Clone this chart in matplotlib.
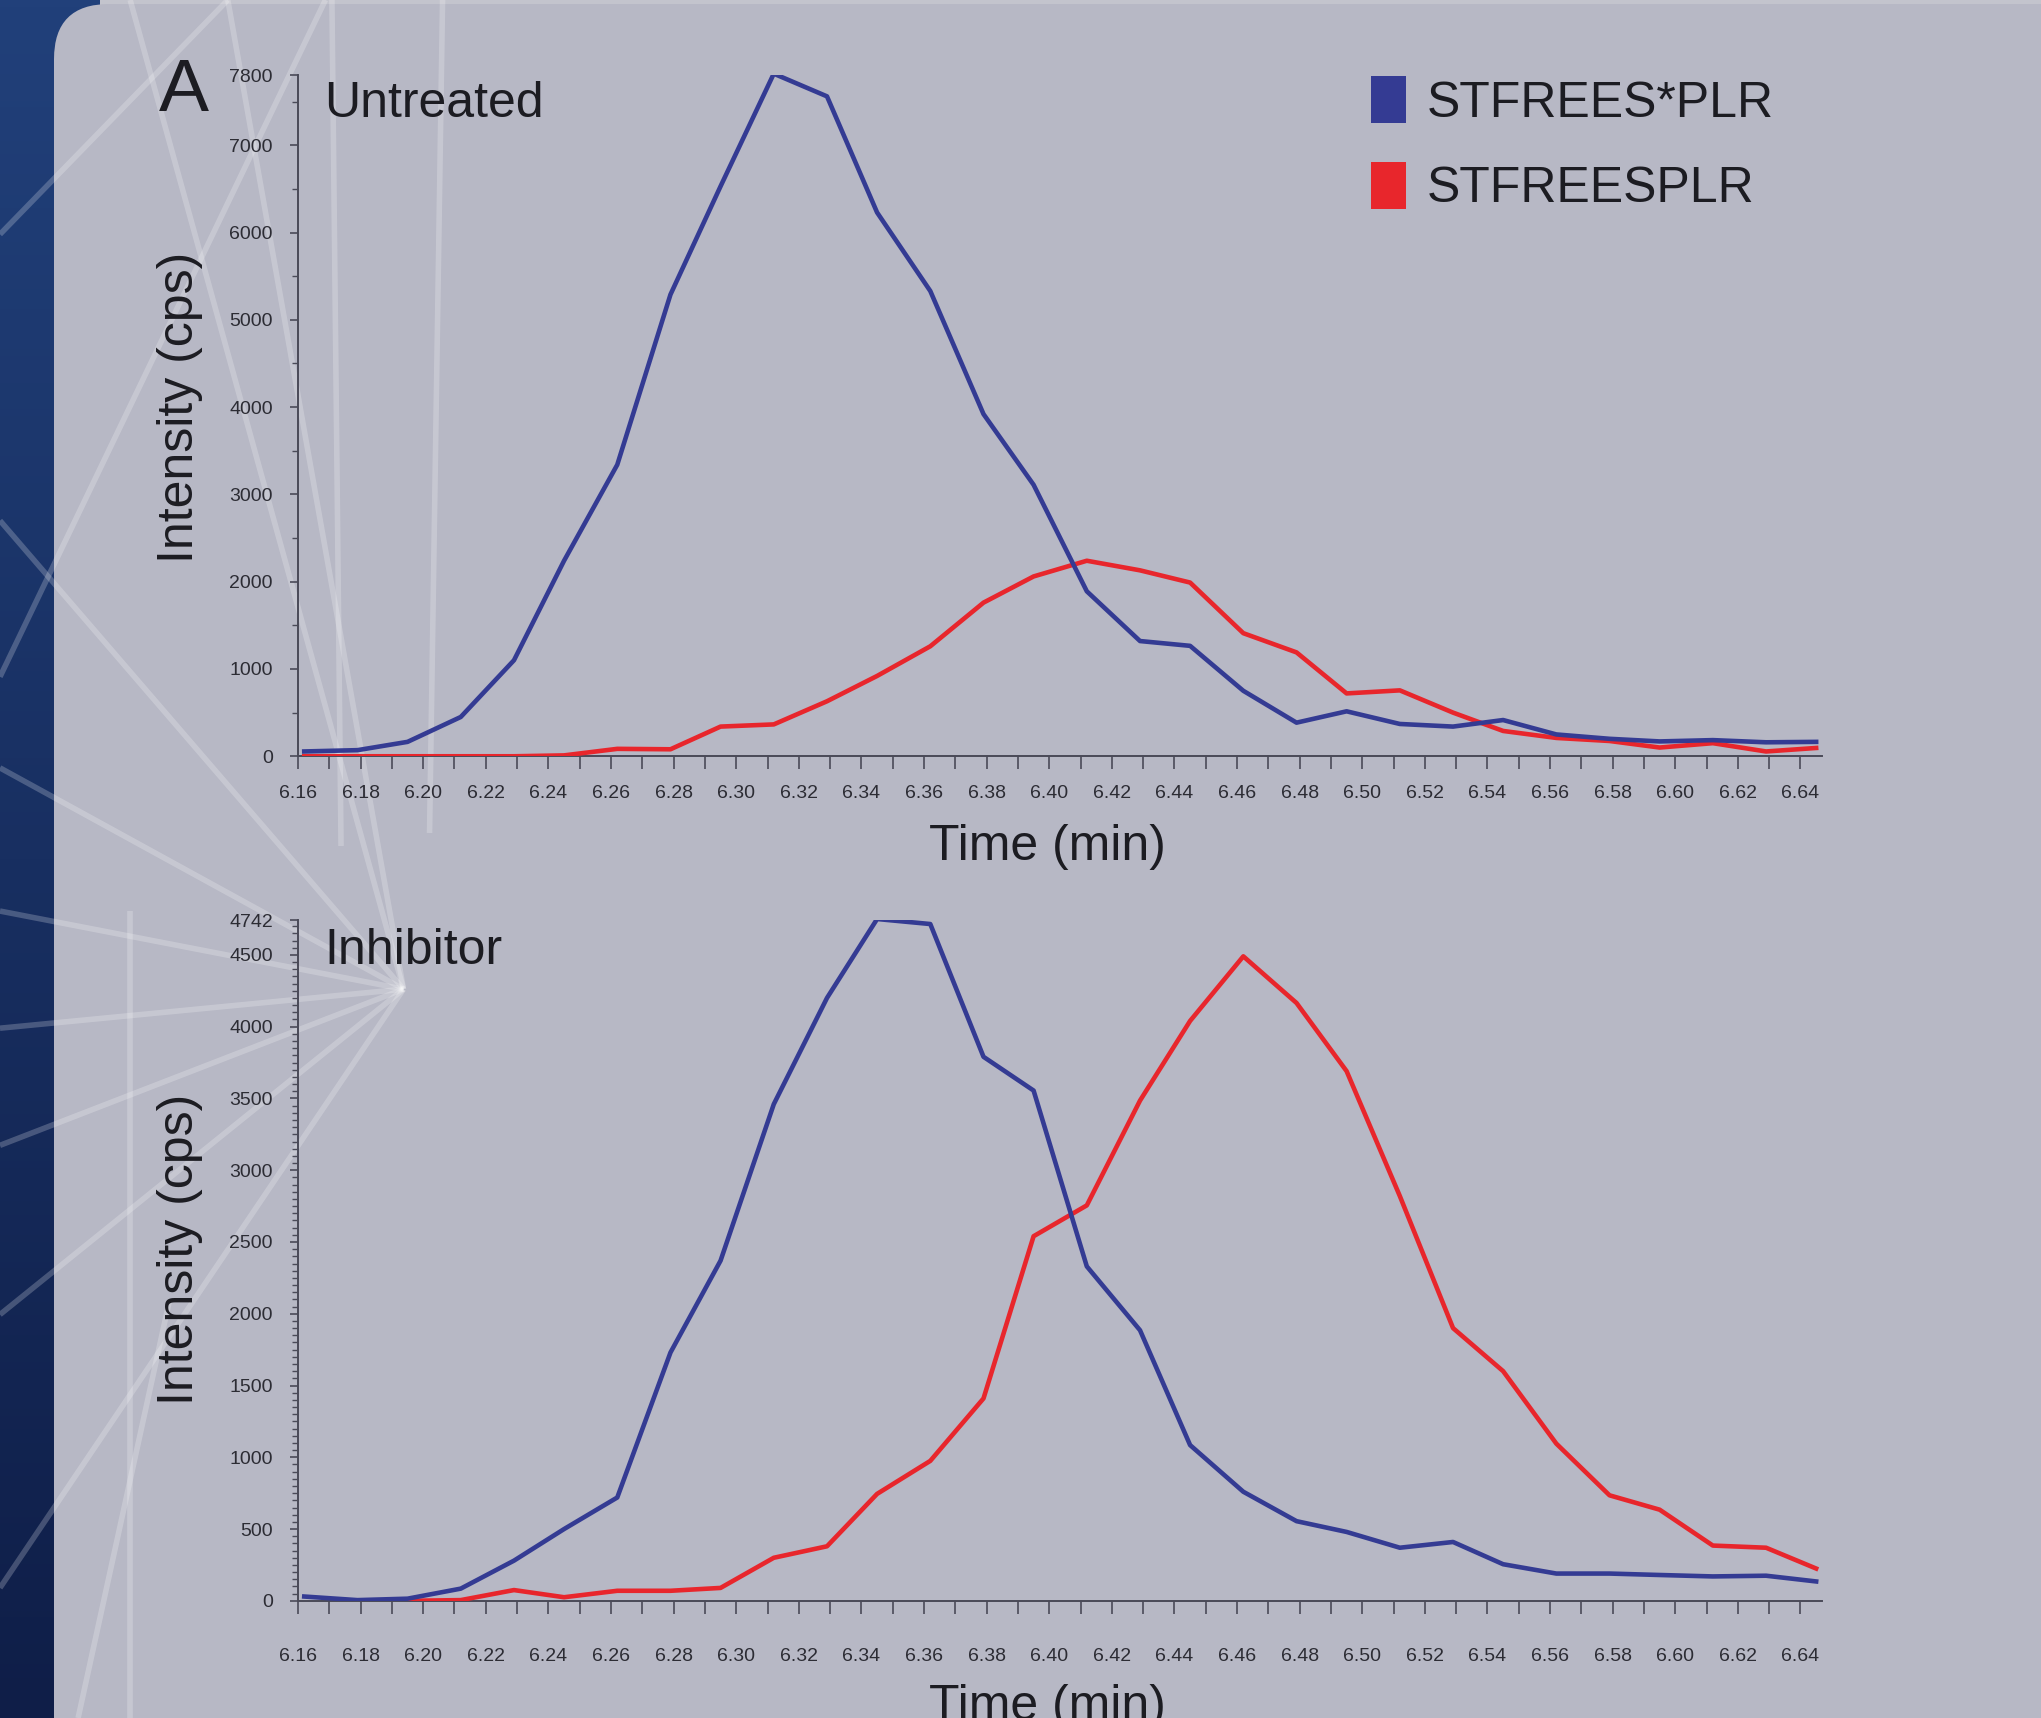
import numpy as np
import matplotlib
matplotlib.use("Agg")
import matplotlib.pyplot as plt
from matplotlib.patches import Patch, FancyBboxPatch, Rectangle
from matplotlib.lines import Line2D
from matplotlib.ticker import MultipleLocator
from matplotlib.transforms import IdentityTransform
from matplotlib.colors import LinearSegmentedColormap

# ---------------- data ----------------
time_min = [6.162, 6.179, 6.195, 6.212, 6.229, 6.245, 6.262, 6.279, 6.295, 6.312,
            6.329, 6.345, 6.362, 6.379, 6.395, 6.412, 6.429, 6.445, 6.462, 6.479,
            6.495, 6.512, 6.529, 6.545, 6.562, 6.579, 6.595, 6.612, 6.629, 6.645]

untreated_stfrees_star = [55, 70, 165, 450, 1100, 2240, 3340, 5290, 6530, 7820,
                          7560, 6230, 5330, 3920, 3110, 1890, 1320, 1265, 750, 385,
                          515, 370, 340, 415, 250, 200, 170, 185, 160, 165]
untreated_stfrees = [0, 0, 0, 0, 0, 10, 85, 80, 340, 365,
                     630, 920, 1260, 1760, 2060, 2240, 2130, 1990, 1410, 1190,
                     720, 755, 500, 290, 210, 175, 100, 150, 55, 95]

inhibitor_stfrees_star = [30, 5, 15, 85, 280, 500, 720, 1730, 2370, 3460,
                          4200, 4750, 4715, 3790, 3555, 2330, 1885, 1085, 760, 555,
                          480, 370, 410, 255, 190, 190, 180, 170, 175, 135]
inhibitor_stfrees = [np.nan, np.nan, 0, 5, 75, 25, 70, 70, 90, 300,
                     380, 745, 975, 1410, 2540, 2755, 3485, 4040, 4490, 4165,
                     3690, 2820, 1900, 1600, 1095, 735, 635, 385, 370, 225]

x_ticks = [6.16, 6.18, 6.20, 6.22, 6.24, 6.26, 6.28, 6.30, 6.32, 6.34, 6.36, 6.38, 6.40,
           6.42, 6.44, 6.46, 6.48, 6.50, 6.52, 6.54, 6.56, 6.58, 6.60, 6.62, 6.64]
x_tick_labels = ["6.16", "6.18", "6.20", "6.22", "6.24", "6.26", "6.28", "6.30", "6.32",
                 "6.34", "6.36", "6.38", "6.40", "6.42", "6.44", "6.46", "6.48", "6.50",
                 "6.52", "6.54", "6.56", "6.58", "6.60", "6.62", "6.64"]
top_y_ticks = [0, 1000, 2000, 3000, 4000, 5000, 6000, 7000, 7800]
bottom_y_ticks = [0, 500, 1000, 1500, 2000, 2500, 3000, 3500, 4000, 4500, 4742]
series_labels = ["STFREES*PLR", "STFREESPLR"]
panel_titles = ["Untreated", "Inhibitor"]

# ---------------- style ----------------
BLUE = "#343b93"
RED = "#e8262c"
AXC = "#4a4a58"
TXT = "#1c1c22"
PANEL = "#b7b8c5"
TITLE_FONT = ["Liberation Sans", "DejaVu Sans"]
TICK_FONT = ["Liberation Sans Narrow", "Liberation Sans", "DejaVu Sans"]

W, H = 2041, 1718
fig = plt.figure(figsize=(W / 100, H / 100), dpi=100)
fig.patch.set_facecolor("#16295a")

# navy band gradient on the left
band = fig.add_axes([0, 0, 0.06, 1], zorder=-3)
grad = np.linspace(0, 1, 256).reshape(-1, 1)
band_cmap = LinearSegmentedColormap.from_list("band", ["#21407a", "#0f1e48"])
band.imshow(grad, aspect="auto", cmap=band_cmap, extent=[0, 1, 0, 1], origin="upper")
band.set_axis_off()

# light strip along the very top
fig.add_artist(Rectangle((100, 1712), 2000, 10, transform=IdentityTransform(),
                         facecolor="#c3c4cd", edgecolor="none", zorder=-2.5))
# light grey poster panel with rounded top-left corner
panel = FancyBboxPatch((54, -80), 2200, 1714 + 80, boxstyle="round,pad=0,rounding_size=55",
                       transform=IdentityTransform(), facecolor=PANEL, edgecolor="none",
                       zorder=-2)
fig.add_artist(panel)


# faint decorative light rays of the poster background (displayed-image coords)
def dpt(x, y):
    return x / 1568.0, 1 - y / 1320.0


rays = [((310, 760), (0, 590)), ((310, 760), (0, 700)), ((310, 760), (0, 790)),
        ((310, 760), (0, 880)), ((310, 760), (0, 1010)), ((310, 760), (0, 400)),
        ((310, 760), (100, 0)), ((310, 760), (175, 0)), ((0, 180), (175, 0)),
        ((0, 520), (250, 0)), ((255, 0), (262, 650)), ((340, 0), (330, 640)),
        ((100, 700), (100, 1320)), ((310, 760), (0, 1220)), ((130, 1000), (60, 1320))]
for (p0, p1) in rays:
    (x0, y0), (x1, y1) = dpt(*p0), dpt(*p1)
    fig.add_artist(Line2D([x0, x1], [y0, y1], transform=fig.transFigure, color="white",
                          alpha=0.22, lw=4, zorder=-1, solid_capstyle="butt"))

ax1 = fig.add_axes([0.1460, 0.5598, 0.7469, 0.3963], zorder=2)
ax2 = fig.add_axes([0.1460, 0.0682, 0.7469, 0.3962], zorder=2)


def style(ax, yticks, ymax, yminor, xpad):
    ax.set_xlim(6.16, 6.647)
    ax.set_ylim(0, ymax)
    ax.patch.set_visible(False)
    for s in ["top", "right"]:
        ax.spines[s].set_visible(False)
    for s in ["left", "bottom"]:
        ax.spines[s].set_color(AXC)
        ax.spines[s].set_linewidth(1.4)
    ax.set_xticks(x_ticks)
    ax.set_xticklabels(x_tick_labels)
    ax.xaxis.set_minor_locator(MultipleLocator(0.01))
    ax.set_yticks(yticks)
    ax.set_yticklabels([str(v) for v in yticks])
    ax.yaxis.set_minor_locator(MultipleLocator(yminor))
    ax.tick_params(axis="x", which="both", direction="out", length=9, width=1.2,
                   colors=AXC, labelcolor="#2c2c34", labelsize=14, pad=xpad)
    ax.tick_params(axis="y", which="major", direction="out", length=6, width=1.2,
                   colors=AXC, labelcolor="#2c2c34", labelsize=14, pad=12)
    ax.tick_params(axis="y", which="minor", direction="out", length=4, width=1.0,
                   colors=AXC)
    for lbl in ax.get_xticklabels() + ax.get_yticklabels():
        lbl.set_fontfamily(TICK_FONT)
        lbl.set_fontstretch("condensed")


style(ax1, top_y_ticks, 7800, 500, 12)
style(ax2, bottom_y_ticks, 4742, 50, 25)

ax1.plot(time_min, untreated_stfrees, color=RED, lw=3.3, zorder=3)
ax1.plot(time_min, untreated_stfrees_star, color=BLUE, lw=3.3, zorder=4)
ax2.plot(time_min, inhibitor_stfrees, color=RED, lw=3.3, zorder=3)
ax2.plot(time_min, inhibitor_stfrees_star, color=BLUE, lw=3.3, zorder=4)

# texts
fig.text(0.0778, 0.947, "A", fontsize=54, family=TITLE_FONT, color=TXT, ha="left", va="center")
fig.text(0.1588, 0.9394, panel_titles[0], fontsize=36, family=TITLE_FONT, color=TXT,
         ha="left", va="center")
fig.text(0.1588, 0.4462, panel_titles[1], fontsize=36, family=TITLE_FONT, color=TXT,
         ha="left", va="center")
for yc in (0.7629, 0.2727):
    fig.text(0.088, yc, "Intensity (cps)", fontsize=36, family=TITLE_FONT, color=TXT,
             rotation=90, ha="center", va="center")
fig.text(0.5134, 0.5068, "Time (min)", fontsize=36, family=TITLE_FONT, color=TXT,
         ha="center", va="center")
fig.text(0.5134, 0.0200, "Time (min)", fontsize=36, family=TITLE_FONT, color=TXT,
         ha="center", va="top")

handles = [Patch(facecolor=BLUE, edgecolor="none", label=series_labels[0]),
           Patch(facecolor=RED, edgecolor="none", label=series_labels[1])]
fig.legend(handles=handles, loc="upper left", bbox_to_anchor=(0.6716, 0.9555),
           bbox_transform=fig.transFigure, frameon=False,
           prop={"family": TITLE_FONT, "size": 36}, handlelength=0.7, handleheight=1.05,
           handletextpad=0.42, labelspacing=0.71, borderpad=0, borderaxespad=0,
           labelcolor=TXT)

fig.savefig("out.png", dpi=100, facecolor=fig.get_facecolor())
